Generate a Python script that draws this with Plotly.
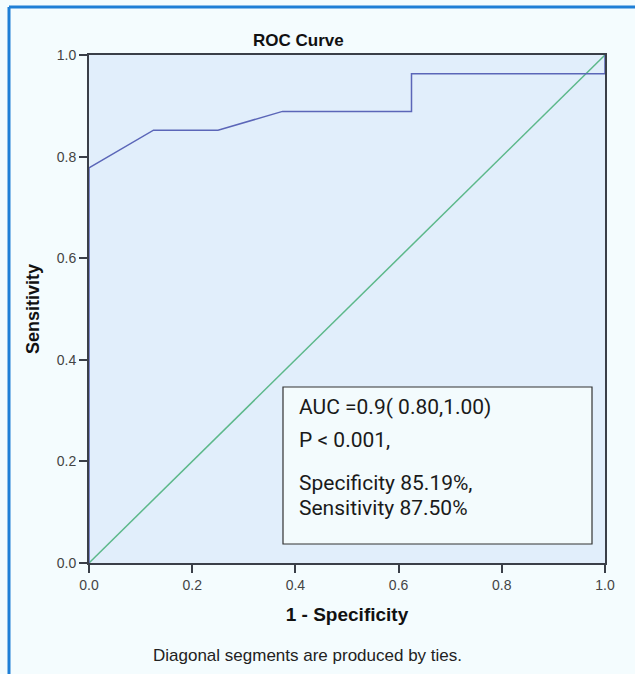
import plotly.graph_objects as go

# ROC curve data (1 - specificity, sensitivity)
fpr = [0.0, 0.0, 0.125, 0.25, 0.375, 0.625, 0.625, 1.0, 1.0]
tpr = [0.0, 0.778, 0.852, 0.852, 0.889, 0.889, 0.963, 0.963, 1.0]
ref_x = [0.0, 1.0]
ref_y = [0.0, 1.0]
tick_vals = [0.0, 0.2, 0.4, 0.6, 0.8, 1.0]
tick_text = ["0.0", "0.2", "0.4", "0.6", "0.8", "1.0"]
box_lines = ["AUC =0.9( 0.80,1.00)", "P < 0.001,", "Specificity 85.19%,", "Sensitivity 87.50%"]

W, H = 635, 674
L, R, T, B = 89, 605, 55, 563

def px(x):
    return (x - L) / (R - L)

def py(y):
    return (B - y) / (B - T)

fig = go.Figure()
fig.add_trace(go.Scatter(x=ref_x, y=ref_y, mode="lines",
                         line=dict(color="#5cb88a", width=1.5), showlegend=False, hoverinfo="skip"))
fig.add_trace(go.Scatter(x=fpr, y=tpr, mode="lines",
                         line=dict(color="#5b66b8", width=1.5), showlegend=False))

axis_common = dict(
    range=[0, 1], tickvals=tick_vals, ticktext=tick_text,
    ticks="outside", ticklen=8, tickwidth=2, tickcolor="#3a3f48",
    showline=True, linecolor="#3a3f48", linewidth=2, mirror=True,
    showgrid=False, zeroline=False,
    tickfont=dict(family="Liberation Sans, Arial", size=14, color="#444"),
)
fig.update_xaxes(**axis_common,
                 title=dict(text="<b>1 - Specificity</b>", standoff=16,
                            font=dict(family="Liberation Sans, Arial", size=19, color="#111")))
fig.update_yaxes(**axis_common,
                 title=dict(text="<b>Sensitivity</b>", standoff=12,
                            font=dict(family="Liberation Sans, Arial", size=18, color="#111")))

shapes = [
    # outer frame (left and top)
    dict(type="line", xref="paper", yref="paper", x0=px(9), x1=px(9), y0=py(7), y1=py(680),
         line=dict(color="#1f7fd6", width=3)),
    dict(type="line", xref="paper", yref="paper", x0=px(9), x1=px(640), y0=py(7), y1=py(7),
         line=dict(color="#1f7fd6", width=3)),
    # annotation box
    dict(type="rect", xref="paper", yref="paper", x0=px(283), x1=px(592), y0=py(387), y1=py(544),
         fillcolor="#f3fbfd", line=dict(color="#333", width=1.2), layer="above"),
]

annotations = [
    dict(text="<b>ROC Curve</b>", xref="paper", yref="paper", x=px(298), y=py(40),
         xanchor="center", yanchor="middle",
         showarrow=False, font=dict(family="Liberation Sans, Arial", size=17, color="#111")),
    dict(text="Diagonal segments are produced by ties.", xref="paper", yref="paper",
         x=px(307), y=py(655), xanchor="center", yanchor="middle", showarrow=False,
         font=dict(family="Liberation Sans, Arial", size=17, color="#222")),
]
line_y = [407, 440, 483, 508]
for t, yy in zip(box_lines, line_y):
    annotations.append(dict(text=t, xref="paper", yref="paper", x=px(297), y=py(yy),
                            xanchor="left", yanchor="middle", showarrow=False,
                            font=dict(family="Roboto", size=21, color="#1a1a1a")))

fig.update_layout(
    width=W, height=H,
    margin=dict(l=L, r=W - R, t=T, b=H - B),
    paper_bgcolor="#f4fcfe",
    plot_bgcolor="#e1eefb",
    shapes=shapes, annotations=annotations,
)
fig.write_html("out.html", config={"displayModeBar": False},
               post_script="document.body.style.margin='0';document.body.style.overflow='hidden';")
